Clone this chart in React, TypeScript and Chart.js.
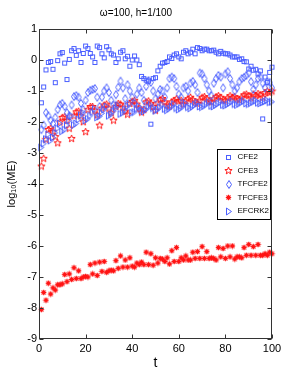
import React, { useEffect, useRef } from "react";
import { Chart, registerables } from "chart.js";
Chart.register(...registerables);

const TITLE = "ω=100, h=1/100";
const X_LABEL = "t";
const Y_LABEL = "log₁₀(ME)";
const SERIES_NAMES = ["CFE2", "CFE3", "TFCFE2", "TFCFE3", "EFCRK2"];

const T = Array.from({ length: 100 }, (_, i) => i + 1);

const CFE2 = [
  -1.38, -0.87, -0.32, -0.08, -0.05, -0.3, -0.73, -0.02, 0.2, 0.24,
  -0.1, -0.63, 0.02, 0.3, 0.37, 0.15, 0.3, -0.08, 0.21, 0.45,
  0.37, 0.21, 0.1, -0.08, 0.45, 0.4, 0.2, 0.07, 0.43, 0.33,
  0.2, 0.16, -0.08, 0.04, 0.25, 0.3, 0.04, 0.12, -0.2, 0.0,
  0.13, 0.0, -0.15, -0.53, -0.6, -0.65, -0.68, -2.07, -0.6, -0.57,
  -0.35, -0.2, -0.1, -0.08, -0.05, 0.1, 0.05, 0.16, 0.2, 0.1,
  0.04, 0.25, 0.3, 0.2, 0.25, 0.35, 0.2, 0.4, 0.37, 0.3,
  0.35, 0.35, 0.3, 0.3, 0.32, 0.25, 0.2, 0.28, 0.22, 0.2,
  0.2, 0.16, 0.1, 0.1, 0.1, 0.02, 0.04, -0.05, -0.06, -0.29,
  -0.2, -0.33, -0.3, -0.45, -0.35, -1.9, -0.55, -0.72, -0.4, -0.23,
];

const CFE3 = [
  -3.42, -3.17, -2.56, -2.24, -2.2, -2.3, -2.47, -2.67, -2.0, -1.85,
  -1.83, -1.95, -2.2, -2.53, -1.8, -1.67, -1.65, -1.8, -1.99, -2.31,
  -1.6, -1.5, -1.5, -1.62, -1.77, -2.1, -1.55, -1.45, -1.42, -1.55,
  -1.7, -1.94, -1.5, -1.4, -1.42, -1.52, -1.65, -1.75, -1.4, -1.33,
  -1.3, -1.42, -1.55, -1.68, -1.6, -1.35, -1.32, -1.4, -1.5, -1.62,
  -1.38, -1.28, -1.24, -1.35, -1.45, -1.48, -1.35, -1.3, -1.25, -1.32,
  -1.3, -1.42, -1.32, -1.25, -1.2, -1.28, -1.35, -1.4, -1.3, -1.2,
  -1.18, -1.25, -1.32, -1.35, -1.25, -1.18, -1.15, -1.2, -1.28, -1.3,
  -1.22, -1.15, -1.2, -1.18, -1.25, -1.28, -1.2, -1.12, -1.1, -1.15,
  -1.22, -1.1, -1.15, -1.08, -1.12, -1.2, -1.05, -1.0, -1.05, -1.0,
];

const TFCFE2 = [
  -2.25, -2.1, -1.7, -1.8, -1.95, -2.05, -1.85, -1.6, -1.45, -1.4,
  -1.5, -1.7, -1.8, -1.45, -1.18, -1.15, -1.2, -1.4, -1.6, -1.3,
  -1.05, -0.98, -0.95, -0.92, -1.2, -1.5, -1.2, -1.0, -0.9, -1.05,
  -1.3, -1.45, -1.12, -0.88, -0.68, -0.9, -1.25, -0.8, -1.0, -1.2,
  -1.4, -1.1, -0.9, -1.05, -1.3, -0.85, -0.66, -0.72, -1.0, -1.25,
  -1.1, -0.95, -1.0, -1.2, -0.9, -0.6, -0.55, -0.6, -0.85, -1.1,
  -1.2, -0.9, -0.85, -1.0, -0.75, -0.69, -0.8, -1.05, -0.42, -0.45,
  -0.6, -0.8, -1.0, -1.15, -0.75, -0.6, -0.5, -0.55, -0.9, -0.45,
  -0.38, -0.6, -0.8, -1.0, -0.9, -0.7, -0.6, -0.56, -0.5, -0.42,
  -0.7, -0.95, -0.8, -0.6, -0.55, -0.75, -0.9, -0.7, -0.72, -0.9,
];

const TFCFE3 = [
  -8.05, -7.5, -7.75, -7.2, -7.55, -7.35, -7.42, -7.25, -7.25, -7.22,
  -6.92, -7.15, -6.9, -7.08, -6.7, -7.05, -6.8, -7.05, -7.0, -6.98,
  -7.0, -6.6, -6.9, -6.55, -6.95, -6.52, -6.82, -6.5, -6.85, -6.8,
  -6.78, -6.8, -6.47, -6.72, -6.32, -6.68, -6.45, -6.68, -6.38, -6.65,
  -6.68, -6.55, -6.6, -6.52, -6.6, -6.2, -6.6, -6.25, -6.62, -6.38,
  -6.55, -6.4, -6.42, -6.5, -6.38, -6.58, -6.15, -6.5, -6.05, -6.5,
  -6.38, -6.45, -6.32, -6.45, -6.45, -6.2, -6.4, -6.18, -6.4, -6.02,
  -6.4, -6.18, -6.4, -6.38, -6.4, -6.45, -6.05, -6.35, -6.08, -6.4,
  -6.0, -6.35, -6.0, -6.42, -6.35, -6.35, -6.38, -6.05, -6.3, -5.95,
  -6.3, -6.02, -6.3, -5.95, -6.3, -6.3, -6.25, -6.3, -6.2, -6.25,
];

const EFCRK2 = [
  -2.82, -2.7, -2.55, -2.4, -2.6, -2.5, -2.35, -2.2, -2.05, -2.3,
  -2.25, -2.1, -1.95, -1.8, -2.1, -2.05, -1.92, -1.78, -1.7, -1.95,
  -1.9, -1.8, -1.68, -1.58, -1.85, -1.82, -1.72, -1.6, -1.5, -1.8,
  -1.75, -1.65, -1.55, -1.45, -1.74, -1.7, -1.6, -1.5, -1.42, -1.7,
  -1.68, -1.58, -1.5, -1.62, -1.66, -1.6, -1.52, -1.45, -1.55, -1.64,
  -1.6, -1.52, -1.45, -1.58, -1.62, -1.57, -1.5, -1.42, -1.55, -1.6,
  -1.55, -1.48, -1.4, -1.52, -1.56, -1.5, -1.44, -1.38, -1.5, -1.52,
  -1.48, -1.42, -1.36, -1.48, -1.5, -1.45, -1.4, -1.35, -1.45, -1.47,
  -1.43, -1.38, -1.33, -1.42, -1.45, -1.41, -1.36, -1.32, -1.4, -1.42,
  -1.39, -1.35, -1.31, -1.38, -1.4, -1.37, -1.34, -1.3, -1.36, -1.35,
];

const FONT = "'Liberation Sans', Arial, sans-serif";
const BLUE = "rgb(75,95,255)";
const RED = "rgb(255,20,20)";

function marker(w: number, h: number, draw: (c: CanvasRenderingContext2D) => void) {
  const cv = document.createElement("canvas");
  cv.width = w;
  cv.height = h;
  const c = cv.getContext("2d")!;
  draw(c);
  return cv;
}

function makeMarkers() {
  const square = marker(7, 7, (c) => {
    c.strokeStyle = BLUE;
    c.lineWidth = 1;
    c.strokeRect(1.5, 1.5, 4, 4);
  });
  const pentagram = marker(9, 9, (c) => {
    c.strokeStyle = RED;
    c.lineWidth = 1;
    c.beginPath();
    for (let i = 0; i < 10; i++) {
      const r = i % 2 === 0 ? 3.8 : 1.6;
      const a = -Math.PI / 2 + (i * Math.PI) / 5;
      const px = 4.5 + r * Math.cos(a);
      const py = 4.8 + r * Math.sin(a);
      if (i === 0) c.moveTo(px, py);
      else c.lineTo(px, py);
    }
    c.closePath();
    c.stroke();
  });
  const diamond = marker(8, 11, (c) => {
    c.strokeStyle = BLUE;
    c.lineWidth = 1;
    c.beginPath();
    c.moveTo(4, 1.5);
    c.lineTo(6.5, 5.5);
    c.lineTo(4, 9.5);
    c.lineTo(1.5, 5.5);
    c.closePath();
    c.stroke();
  });
  const asterisk = marker(7, 7, (c) => {
    c.strokeStyle = RED;
    c.fillStyle = RED;
    c.lineWidth = 1.1;
    c.beginPath();
    c.moveTo(3.5, 0.8); c.lineTo(3.5, 6.2);
    c.moveTo(0.8, 3.5); c.lineTo(6.2, 3.5);
    c.moveTo(1.5, 1.5); c.lineTo(5.5, 5.5);
    c.moveTo(5.5, 1.5); c.lineTo(1.5, 5.5);
    c.stroke();
    c.beginPath();
    c.arc(3.5, 3.5, 1.5, 0, Math.PI * 2);
    c.fill();
  });
  const triangle = marker(8, 9, (c) => {
    c.strokeStyle = BLUE;
    c.lineWidth = 1;
    c.beginPath();
    c.moveTo(1.5, 1);
    c.lineTo(6.5, 4.5);
    c.lineTo(1.5, 8);
    c.closePath();
    c.stroke();
  });
  return [square, pentagram, diamond, asterisk, triangle];
}

export default function App() {
  const ref = useRef<HTMLCanvasElement>(null);

  useEffect(() => {
    document.body.style.margin = "0";
    const markers = makeMarkers();
    const values = [CFE2, CFE3, TFCFE2, TFCFE3, EFCRK2];

    const framePlugin = {
      id: "matlabFrame",
      afterDraw(chart: any) {
        const { ctx, chartArea: a, scales } = chart;
        const xs = scales.x;
        const ys = scales.y;
        ctx.save();
        ctx.strokeStyle = "#333";
        ctx.lineWidth = 1;
        const L = Math.round(a.left) + 0.5;
        const R = Math.round(a.right) - 0.5;
        const Tp = Math.round(a.top) + 0.5;
        const B = Math.round(a.bottom) - 0.5;
        ctx.strokeRect(L, Tp, R - L, B - Tp);
        const tl = 4;
        ctx.beginPath();
        xs.ticks.forEach((t: any) => {
          const px = Math.round(xs.getPixelForValue(t.value)) + 0.5;
          ctx.moveTo(px, B); ctx.lineTo(px, B - tl);
          ctx.moveTo(px, Tp); ctx.lineTo(px, Tp + tl);
        });
        ys.ticks.forEach((t: any) => {
          const py = Math.round(ys.getPixelForValue(t.value)) + 0.5;
          ctx.moveTo(L, py); ctx.lineTo(L + tl, py);
          ctx.moveTo(R, py); ctx.lineTo(R - tl, py);
        });
        ctx.stroke();

        // legend box
        const bx = Math.round(a.right) - 55 + 0.5;
        const by = Math.round(a.top) + 120 + 0.5;
        const bw = 53;
        const bh = 70;
        ctx.fillStyle = "#fff";
        ctx.fillRect(bx, by, bw, bh);
        ctx.strokeStyle = "#000";
        ctx.strokeRect(bx, by, bw, bh);
        ctx.font = `8px ${FONT}`;
        ctx.fillStyle = "#000";
        ctx.textBaseline = "middle";
        ctx.textAlign = "left";
        chart.data.datasets.forEach((ds: any, i: number) => {
          const y = by + 7.5 + i * 13.5;
          const img = markers[i];
          ctx.drawImage(img, Math.round(bx + 11 - img.width / 2), Math.round(y - img.height / 2));
          ctx.fillText(ds.label, bx + 20, y);
        });
        ctx.restore();
      },
    };

    const chart = new Chart(ref.current!, {
      type: "scatter",
      data: {
        datasets: SERIES_NAMES.map((name, i) => ({
          label: name,
          data: T.map((t, j) => ({ x: t, y: values[i][j] })),
          pointStyle: markers[i] as any,
          pointRadius: 3,
          showLine: false,
          clip: false as any,
          order: 4 - i,
        })),
      },
      options: {
        responsive: false,
        animation: false,
        events: [],
        layout: { padding: { left: 0, right: 28, top: 0, bottom: 0 } },
        plugins: {
          legend: { display: false },
          tooltip: { enabled: false },
          title: {
            display: true,
            text: TITLE,
            color: "#000",
            font: { family: FONT, size: 10, weight: "normal" },
            padding: { top: 7, bottom: 10 },
          },
        },
        scales: {
          x: {
            type: "linear",
            min: 0,
            max: 100,
            ticks: { stepSize: 20, color: "#000", font: { family: FONT, size: 11 }, padding: 3, maxRotation: 0 },
            grid: { display: false, drawTicks: false },
            border: { display: false },
            title: { display: true, text: X_LABEL, color: "#000", font: { family: FONT, size: 14 }, padding: { top: 0, bottom: 10 } },
            afterFit: (s: any) => { s.height = 43; },
          },
          y: {
            type: "linear",
            min: -9,
            max: 1,
            ticks: { stepSize: 1, color: "#000", font: { family: FONT, size: 11 }, padding: 2 },
            grid: { display: false, drawTicks: false },
            border: { display: false },
            title: { display: true, text: Y_LABEL, color: "#000", font: { family: FONT, size: 11 }, padding: { top: 5, bottom: 0 } },
            afterFit: (s: any) => { s.width = 39; },
          },
        },
      },
      plugins: [framePlugin],
    });
    return () => chart.destroy();
  }, []);

  return (
    <div style={{ position: "absolute", left: 0, top: 0, width: 300, height: 382, background: "#fff" }}>
      <canvas ref={ref} width={300} height={382} style={{ display: "block" }} />
    </div>
  );
}
